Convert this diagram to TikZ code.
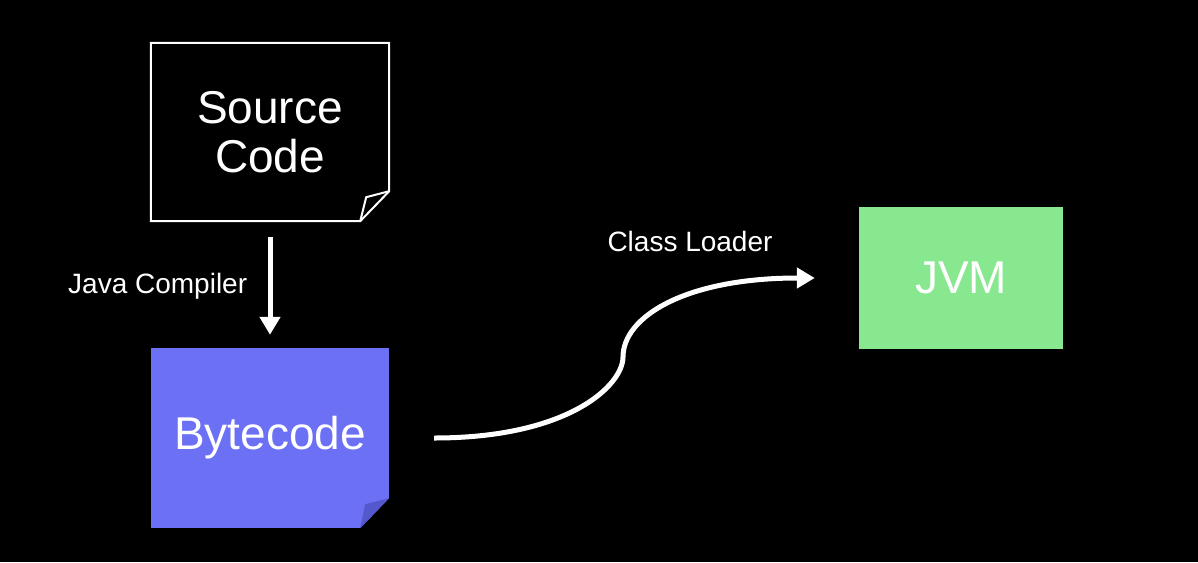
\documentclass[tikz,border=0pt]{standalone}
\usepackage{fontspec}
\setmainfont{Liberation Sans}
\usepackage{xcolor}
\usetikzlibrary{arrows.meta, positioning, calc}

\definecolor{azulbyte}{RGB}{107,112,245}
\definecolor{dobra}{RGB}{84,88,205}
\definecolor{verdejvm}{RGB}{135,232,143}

\begin{document}
\begin{tikzpicture}[x=1pt, y=-1pt,
        every node/.style={align=center, text=white},
        folha/.style={minimum width=238pt, minimum height=178pt, inner sep=0pt, font=\fontsize{46}{49}\selectfont},
        caixa/.style={fill=verdejvm, minimum width=204pt, minimum height=142pt, inner sep=0pt, font=\fontsize{46}{49}\selectfont},
        rotulo/.style={font=\fontsize{28}{30}\selectfont},
        seta/.style={-{Triangle[width=20pt, length=18pt]}, line width=5pt, white}
    ]
        \fill[black] (0,0) rectangle (1198,562);
        \useasboundingbox (0,0) rectangle (1198,562);

        \node[folha] (fonte) at (270,132) {Source\\Code};
        \node[folha, minimum height=180pt, fill=azulbyte] (bytecode) at (270,438) {Bytecode};
        \node[caixa] (jvm) at (961,278) {JVM};

        % folha com canto dobrado
        \draw[white, line width=2pt, line join=miter] (fonte.north west) -- (fonte.north east)
            -- ($(fonte.south east)+(0,-30)$) -- ($(fonte.south east)+(-29,0)$)
            -- (fonte.south west) -- cycle;
        \draw[white, line width=2pt, line join=miter] ($(fonte.south east)+(-29,0)$)
            -- ($(fonte.south east)+(-23,-24)$) -- ($(fonte.south east)+(0,-30)$);

        \fill[black] ($(bytecode.south east)+(0,-30)$) -- ($(bytecode.south east)+(0.5,0.5)$)
            -- ($(bytecode.south east)+(-29,0)$) -- cycle;
        \fill[dobra] ($(bytecode.south east)+(-29,0)$) -- ($(bytecode.south east)+(-24,-24)$)
            -- ($(bytecode.south east)+(0,-30)$) -- cycle;

        \draw[seta] ([yshift=-16pt]fonte.south) -- node[rotulo, left=17pt] (compilador) {Java Compiler} ([yshift=13pt]bytecode.north);

        \coordinate (inflexao) at (623,357);
        \draw[seta] ($(bytecode.east)+(45,0)$) .. controls +(135,0) and +(0,28) .. (inflexao)
            .. controls +(0,-40) and +(-130,0) .. ($(jvm.west)+(-44,0)$);
        \node[rotulo] (carregador) at (690,241) {Class Loader};
    \end{tikzpicture}
\end{document}
